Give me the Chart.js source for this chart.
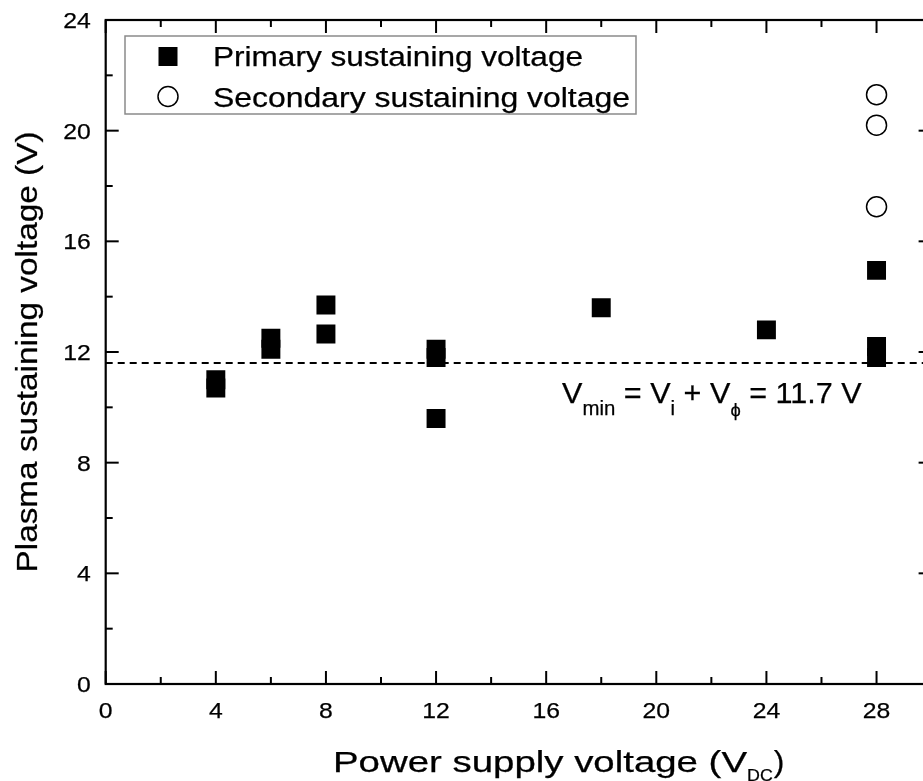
<!DOCTYPE html>
<html>
<head>
<meta charset="utf-8">
<script src="https://cdn.jsdelivr.net/npm/chart.js@4.4.1/dist/chart.umd.min.js"></script>
<style>
  html, body { margin: 0; padding: 0; background: #fff; overflow: hidden; }
  .chart__body { width: 945px; height: 781px; position: relative; }
</style>
</head>
<body>
<div class="chart__body"><canvas id="myChart"></canvas></div>
<script>
// data
const primaryX = [4, 4, 6, 6, 8, 8, 12, 12, 12, 18, 24, 28, 28, 28];
const primaryY = [11.0, 10.7, 12.5, 12.1, 13.7, 12.65, 12.1, 11.8, 9.6, 13.6, 12.8, 14.95, 12.2, 11.8];
const secondaryX = [28, 28, 28];
const secondaryY = [21.3, 20.2, 17.25];
const vMinLevel = 11.6; // dashed line
const vMinLine = [0, 30];

// axis ticks
const xTicks = [0, 4, 8, 12, 16, 20, 24, 28];
const xMinor = [2, 6, 10, 14, 18, 22, 26];
const yTicks = [0, 4, 8, 12, 16, 20, 24];
const yMinor = [2, 6, 10, 14, 18, 22];

const FONT = '"Liberation Sans", Arial, sans-serif';

// draws text with a horizontal stretch, returns the drawn width
function txt(ctx, s, x, y, size, sx, align) {
  ctx.save();
  ctx.font = size + "px " + FONT;
  ctx.textBaseline = "alphabetic";
  ctx.textAlign = "left";
  const w = ctx.measureText(s).width * sx;
  let dx = 0;
  if (align === "right") dx = -w;
  if (align === "center") dx = -w / 2;
  ctx.translate(x + dx, y);
  ctx.scale(sx, 1);
  ctx.fillStyle = "#000";
  ctx.strokeStyle = "#000";
  ctx.lineWidth = 0.25;
  ctx.fillText(s, 0, 0);
  ctx.strokeText(s, 0, 0);
  ctx.restore();
  return w;
}

function fitStretch(ctx, s, size, width) {
  ctx.font = size + "px " + FONT;
  return width / ctx.measureText(s).width;
}

const framePlugin = {
  id: "frame",
  afterDatasetsDraw(chart) {
    const ctx = chart.ctx;
    const a = chart.chartArea;
    const xs = chart.scales.x;
    const ys = chart.scales.y;

    // frame
    ctx.save();
    ctx.strokeStyle = "#000";
    ctx.lineWidth = 2.2;
    ctx.strokeRect(a.left, a.top, a.right - a.left, a.bottom - a.top);

    // inward ticks
    ctx.lineWidth = 2;
    function tick(x1, y1, x2, y2) {
      ctx.beginPath();
      ctx.moveTo(x1, y1);
      ctx.lineTo(x2, y2);
      ctx.stroke();
    }
    xTicks.forEach((v) => {
      const px = xs.getPixelForValue(v);
      tick(px, a.bottom, px, a.bottom - 13);
      tick(px, a.top, px, a.top + 13);
    });
    xMinor.forEach((v) => {
      const px = xs.getPixelForValue(v);
      tick(px, a.bottom, px, a.bottom - 7);
      tick(px, a.top, px, a.top + 7);
    });
    yTicks.forEach((v) => {
      const py = ys.getPixelForValue(v);
      tick(a.left, py, a.left + 13, py);
      tick(a.right, py, a.right - 13, py);
    });
    yMinor.forEach((v) => {
      const py = ys.getPixelForValue(v);
      tick(a.left, py, a.left + 7, py);
      tick(a.right, py, a.right - 7, py);
    });
    ctx.restore();

    // tick labels
    xTicks.forEach((v) => {
      txt(ctx, String(v), xs.getPixelForValue(v), a.bottom + 34, 22.5, 1.1, "center");
    });
    yTicks.forEach((v) => {
      txt(ctx, String(v), a.left - 15, ys.getPixelForValue(v) + 8, 22.5, 1.1, "right");
    });

    // y title
    ctx.save();
    ctx.translate(37, 352);
    ctx.rotate(-Math.PI / 2);
    const yt = "Plasma sustaining voltage (V)";
    txt(ctx, yt, 0, 0, 29, fitStretch(ctx, yt, 29, 441), "center");
    ctx.restore();

    // x title with subscript
    const xt = "Power supply voltage (V";
    const sxT = fitStretch(ctx, xt, 29, 414);
    let cx = 333;
    cx += txt(ctx, xt, cx, 772, 29, sxT, "left");
    cx += txt(ctx, "DC", cx, 781, 17, 1.05, "left");
    txt(ctx, ")", cx + 1, 772, 29, 1.1, "left");

    // legend
    ctx.save();
    ctx.strokeStyle = "#8a8a8a";
    ctx.lineWidth = 1.5;
    ctx.strokeRect(125, 36, 511, 78);
    ctx.fillStyle = "#000";
    ctx.fillRect(158.5, 47, 19, 19);
    ctx.beginPath();
    ctx.arc(168, 96.5, 10, 0, Math.PI * 2);
    ctx.fillStyle = "#fff";
    ctx.fill();
    ctx.strokeStyle = "#000";
    ctx.lineWidth = 1.5;
    ctx.stroke();
    ctx.restore();
    const l1 = "Primary sustaining voltage";
    const l2 = "Secondary sustaining voltage";
    txt(ctx, l1, 213, 66, 27, fitStretch(ctx, l1, 27, 370), "left");
    txt(ctx, l2, 213, 106.5, 27, fitStretch(ctx, l2, 27, 417), "left");

    // annotation: V_min = V_i + V_phi = 11.7 V
    const s = 1.02;
    let ax = 562;
    ax += txt(ctx, "V", ax, 403, 30, s, "left");
    ax += txt(ctx, "min", ax, 415, 20, s, "left");
    ax += txt(ctx, " = V", ax, 403, 30, s, "left");
    ax += txt(ctx, "i", ax, 415, 20, s, "left");
    ax += txt(ctx, " + V", ax, 403, 30, s, "left");
    ax += txt(ctx, "\u03d5", ax, 416, 18, s, "left");
    txt(ctx, " = 11.7 V", ax, 403, 30, s, "left");
  },
};

const data = {
  datasets: [
    {
      type: "scatter",
      label: "Primary sustaining voltage",
      data: primaryX.map((x, i) => ({ x: x, y: primaryY[i] })),
      pointStyle: "rect",
      pointRadius: 13.4,
      backgroundColor: "#000",
      borderWidth: 0,
      order: 1,
    },
    {
      type: "scatter",
      label: "Secondary sustaining voltage",
      data: secondaryX.map((x, i) => ({ x: x, y: secondaryY[i] })),
      pointStyle: "circle",
      pointRadius: 10,
      backgroundColor: "#fff",
      borderColor: "#000",
      borderWidth: 1.5,
      order: 1,
    },
    {
      type: "line",
      label: "Vmin",
      data: vMinLine.map((x) => ({ x: x, y: vMinLevel })),
      borderColor: "#000",
      borderWidth: 2,
      borderDash: [7, 5],
      pointRadius: 0,
      fill: false,
      order: 2,
    },
  ],
};

const config = {
  type: "scatter",
  data,
  options: {
    responsive: true,
    maintainAspectRatio: false,
    animation: false,
    events: [],
    layout: {
      padding: { left: 105.7, right: 13.1, top: 20, bottom: 97 },
    },
    scales: {
      x: { type: "linear", min: 0, max: 30, display: false },
      y: { type: "linear", min: 0, max: 24, display: false },
    },
    plugins: {
      legend: { display: false },
      tooltip: { enabled: false },
    },
  },
  plugins: [framePlugin],
};

const myChart = new Chart(document.getElementById("myChart"), config);
</script>
</body>
</html>
